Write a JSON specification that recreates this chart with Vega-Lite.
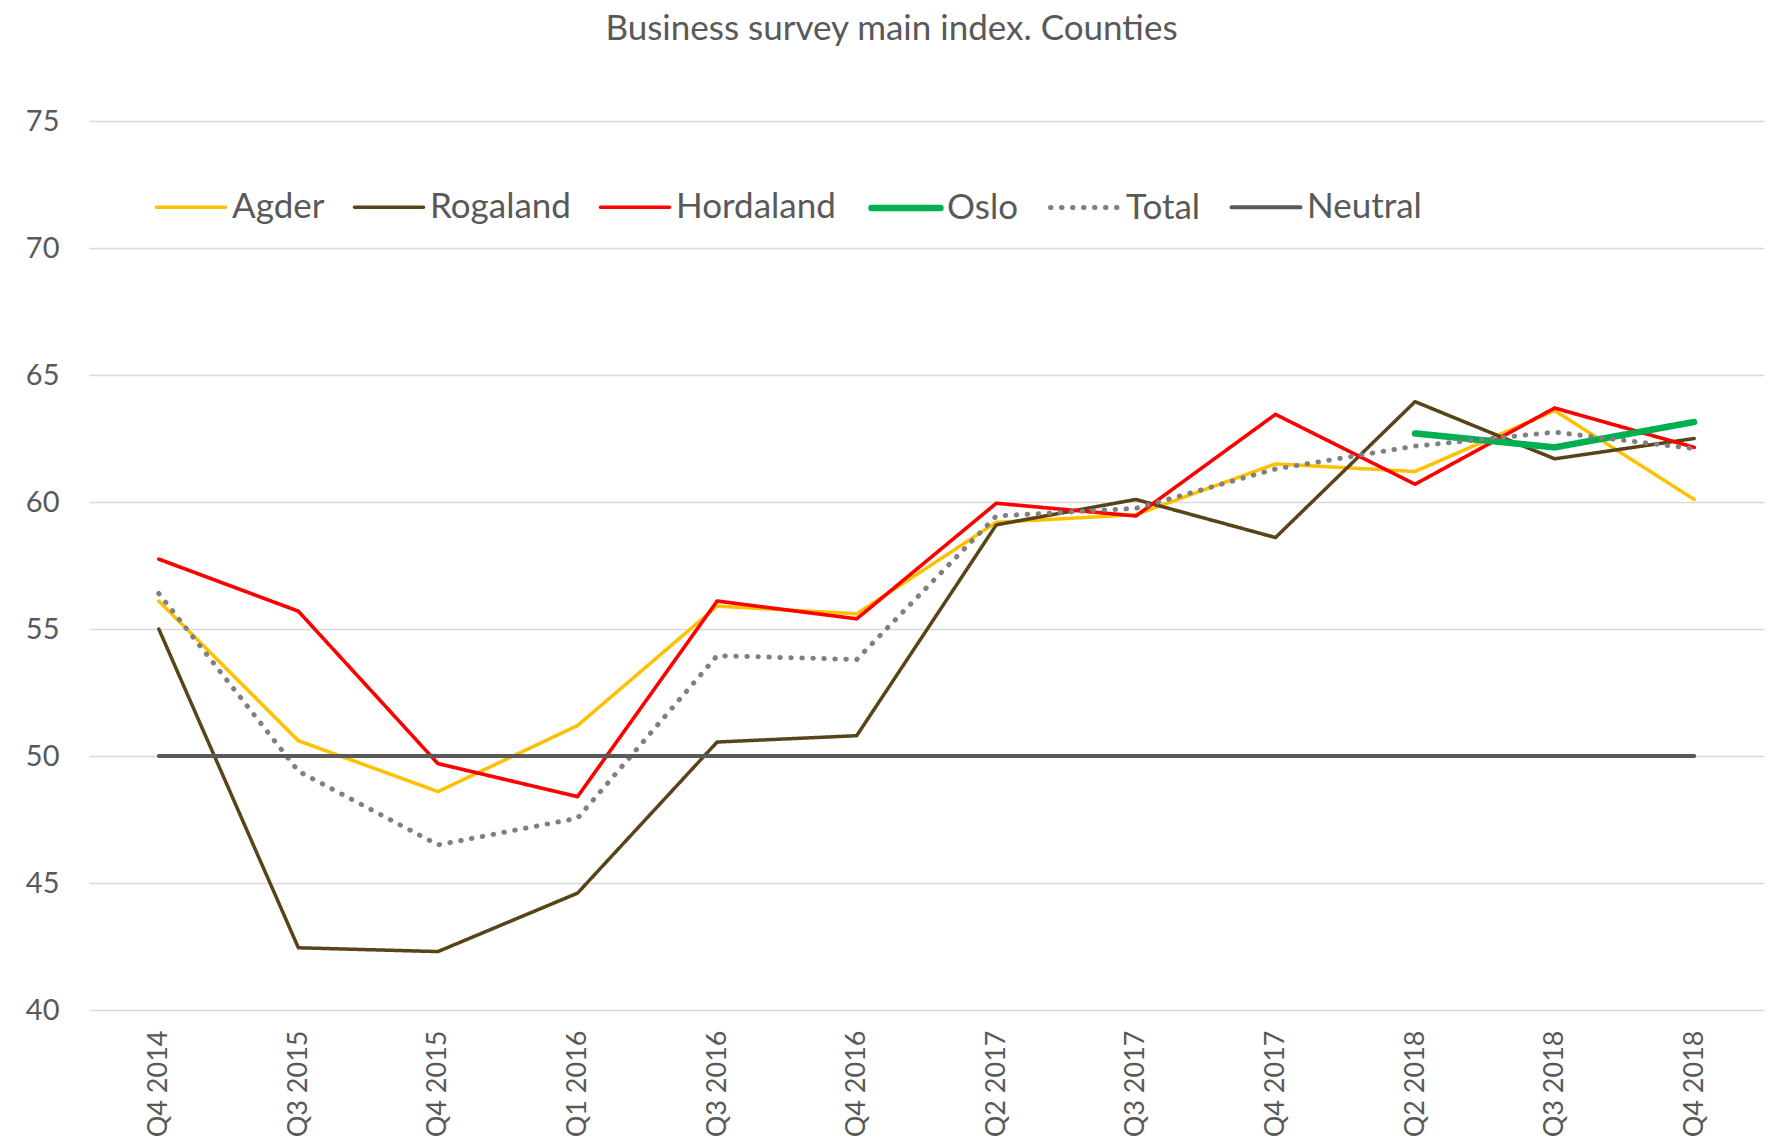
{
  "$schema": "https://vega.github.io/schema/vega-lite/v6.json",
  "autosize": {"type": "none"},
  "padding": {"left": 89, "top": 121, "right": 10, "bottom": 131},
  "width": 1675,
  "height": 889,
  "background": "white",
  "title": {
    "text": "Business survey main index. Counties",
    "font": "Lato",
    "fontSize": 35,
    "fontWeight": "normal",
    "color": "#595959",
    "anchor": "middle",
    "frame": "group",
    "baseline": "alphabetic",
    "offset": 32,
    "dx": -35
  },
  "data": {
    "values": [
      {"q": "Q4 2014", "series": "Agder", "v": 56.1},
      {"q": "Q3 2015", "series": "Agder", "v": 50.6},
      {"q": "Q4 2015", "series": "Agder", "v": 48.6},
      {"q": "Q1 2016", "series": "Agder", "v": 51.2},
      {"q": "Q3 2016", "series": "Agder", "v": 55.9},
      {"q": "Q4 2016", "series": "Agder", "v": 55.6},
      {"q": "Q2 2017", "series": "Agder", "v": 59.2},
      {"q": "Q3 2017", "series": "Agder", "v": 59.5},
      {"q": "Q4 2017", "series": "Agder", "v": 61.5},
      {"q": "Q2 2018", "series": "Agder", "v": 61.2},
      {"q": "Q3 2018", "series": "Agder", "v": 63.6},
      {"q": "Q4 2018", "series": "Agder", "v": 60.1},
      {"q": "Q4 2014", "series": "Rogaland", "v": 55.0},
      {"q": "Q3 2015", "series": "Rogaland", "v": 42.45},
      {"q": "Q4 2015", "series": "Rogaland", "v": 42.3},
      {"q": "Q1 2016", "series": "Rogaland", "v": 44.6},
      {"q": "Q3 2016", "series": "Rogaland", "v": 50.55},
      {"q": "Q4 2016", "series": "Rogaland", "v": 50.8},
      {"q": "Q2 2017", "series": "Rogaland", "v": 59.1},
      {"q": "Q3 2017", "series": "Rogaland", "v": 60.1},
      {"q": "Q4 2017", "series": "Rogaland", "v": 58.6},
      {"q": "Q2 2018", "series": "Rogaland", "v": 63.95},
      {"q": "Q3 2018", "series": "Rogaland", "v": 61.7},
      {"q": "Q4 2018", "series": "Rogaland", "v": 62.5},
      {"q": "Q4 2014", "series": "Hordaland", "v": 57.75},
      {"q": "Q3 2015", "series": "Hordaland", "v": 55.7},
      {"q": "Q4 2015", "series": "Hordaland", "v": 49.7},
      {"q": "Q1 2016", "series": "Hordaland", "v": 48.4},
      {"q": "Q3 2016", "series": "Hordaland", "v": 56.1},
      {"q": "Q4 2016", "series": "Hordaland", "v": 55.4},
      {"q": "Q2 2017", "series": "Hordaland", "v": 59.95},
      {"q": "Q3 2017", "series": "Hordaland", "v": 59.45},
      {"q": "Q4 2017", "series": "Hordaland", "v": 63.45},
      {"q": "Q2 2018", "series": "Hordaland", "v": 60.7},
      {"q": "Q3 2018", "series": "Hordaland", "v": 63.7},
      {"q": "Q4 2018", "series": "Hordaland", "v": 62.15},
      {"q": "Q2 2018", "series": "Oslo", "v": 62.7},
      {"q": "Q3 2018", "series": "Oslo", "v": 62.15},
      {"q": "Q4 2018", "series": "Oslo", "v": 63.15},
      {"q": "Q4 2014", "series": "Total", "v": 56.4},
      {"q": "Q3 2015", "series": "Total", "v": 49.4},
      {"q": "Q4 2015", "series": "Total", "v": 46.5},
      {"q": "Q1 2016", "series": "Total", "v": 47.55},
      {"q": "Q3 2016", "series": "Total", "v": 53.95},
      {"q": "Q4 2016", "series": "Total", "v": 53.8},
      {"q": "Q2 2017", "series": "Total", "v": 59.45},
      {"q": "Q3 2017", "series": "Total", "v": 59.75},
      {"q": "Q4 2017", "series": "Total", "v": 61.3},
      {"q": "Q2 2018", "series": "Total", "v": 62.2},
      {"q": "Q3 2018", "series": "Total", "v": 62.75},
      {"q": "Q4 2018", "series": "Total", "v": 62.1},
      {"q": "Q4 2014", "series": "Neutral", "v": 50},
      {"q": "Q3 2015", "series": "Neutral", "v": 50},
      {"q": "Q4 2015", "series": "Neutral", "v": 50},
      {"q": "Q1 2016", "series": "Neutral", "v": 50},
      {"q": "Q3 2016", "series": "Neutral", "v": 50},
      {"q": "Q4 2016", "series": "Neutral", "v": 50},
      {"q": "Q2 2017", "series": "Neutral", "v": 50},
      {"q": "Q3 2017", "series": "Neutral", "v": 50},
      {"q": "Q4 2017", "series": "Neutral", "v": 50},
      {"q": "Q2 2018", "series": "Neutral", "v": 50},
      {"q": "Q3 2018", "series": "Neutral", "v": 50},
      {"q": "Q4 2018", "series": "Neutral", "v": 50}
    ]
  },
  "mark": {"type": "line", "strokeCap": "round", "strokeJoin": "round"},
  "encoding": {
    "x": {
      "field": "q",
      "type": "ordinal",
      "sort": ["Q4 2014", "Q3 2015", "Q4 2015", "Q1 2016", "Q3 2016", "Q4 2016", "Q2 2017", "Q3 2017", "Q4 2017", "Q2 2018", "Q3 2018", "Q4 2018"],
      "scale": {"type": "point", "padding": 0.5},
      "axis": {
        "title": null,
        "labelAngle": 270,
        "labelFont": "Lato",
        "labelFontSize": 27,
        "labelColor": "#595959",
        "labelPadding": 20,
        "ticks": false,
        "domain": false,
        "grid": false
      }
    },
    "y": {
      "field": "v",
      "type": "quantitative",
      "scale": {"domain": [40, 75], "nice": false, "zero": false},
      "axis": {
        "title": null,
        "values": [40, 45, 50, 55, 60, 65, 70, 75],
        "labelFont": "Lato",
        "labelFontSize": 29,
        "labelColor": "#595959",
        "labelPadding": 30,
        "ticks": false,
        "domain": false,
        "gridColor": "#D9D9D9",
        "gridWidth": 1.5
      }
    },
    "color": {
      "field": "series",
      "type": "ordinal",
      "sort": ["Agder", "Rogaland", "Hordaland", "Oslo", "Total", "Neutral"],
      "scale": {
        "domain": ["Agder", "Rogaland", "Hordaland", "Oslo", "Total", "Neutral"],
        "range": ["#FFC000", "#594319", "#FF0000", "#00B050", "#808080", "#595959"]
      },
      "legend": {
        "title": null,
        "orient": "none",
        "legendX": 64,
        "legendY": 49,
        "direction": "horizontal",
        "columns": 6,
        "symbolType": "stroke",
        "symbolSize": 4761,
        "labelFont": "Lato",
        "labelFontSize": 35,
        "labelColor": "#595959",
        "labelOffset": 3,
        "columnPadding": 22,
        "labelLimit": 400,
        "encode": {"symbols": {"update": {"strokeCap": {"value": "round"}}}}
      }
    },
    "strokeDash": {
      "field": "series",
      "type": "ordinal",
      "sort": ["Agder", "Rogaland", "Hordaland", "Oslo", "Total", "Neutral"],
      "scale": {
        "domain": ["Agder", "Rogaland", "Hordaland", "Oslo", "Total", "Neutral"],
        "range": [[1, 0], [1, 0], [1, 0], [1, 0], [0.5, 10.5], [1, 0]]
      },
      "legend": {
        "title": null,
        "orient": "none",
        "legendX": 64,
        "legendY": 49,
        "direction": "horizontal",
        "columns": 6,
        "symbolType": "stroke",
        "symbolSize": 4761,
        "labelFont": "Lato",
        "labelFontSize": 35,
        "labelColor": "#595959",
        "labelOffset": 3,
        "columnPadding": 22,
        "labelLimit": 400,
        "encode": {"symbols": {"update": {"strokeCap": {"value": "round"}}}}
      }
    },
    "strokeWidth": {
      "field": "series",
      "type": "ordinal",
      "sort": ["Agder", "Rogaland", "Hordaland", "Oslo", "Total", "Neutral"],
      "scale": {
        "type": "ordinal",
        "domain": ["Agder", "Rogaland", "Hordaland", "Oslo", "Total", "Neutral"],
        "range": [3.5, 3.5, 3.6, 6.5, 5, 4]
      },
      "legend": {
        "title": null,
        "orient": "none",
        "legendX": 64,
        "legendY": 49,
        "direction": "horizontal",
        "columns": 6,
        "symbolType": "stroke",
        "symbolSize": 4761,
        "labelFont": "Lato",
        "labelFontSize": 35,
        "labelColor": "#595959",
        "labelOffset": 3,
        "columnPadding": 22,
        "labelLimit": 400,
        "encode": {"symbols": {"update": {"strokeCap": {"value": "round"}}}}
      }
    }
  },
  "config": {
    "view": {"stroke": null}
  }
}
